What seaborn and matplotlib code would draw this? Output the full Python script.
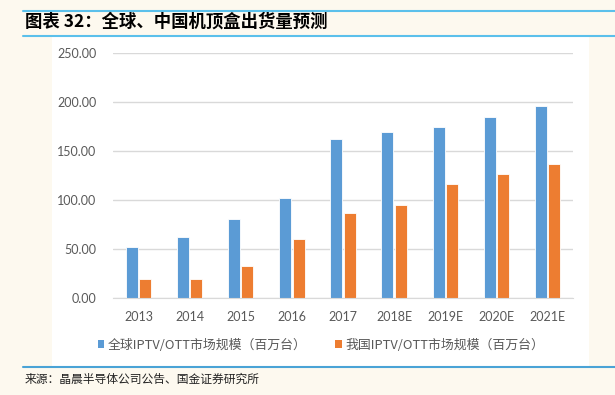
import pandas as pd
import seaborn as sns
import matplotlib.pyplot as plt
from matplotlib.patches import Rectangle, Patch
from matplotlib.lines import Line2D

# Data
years = ["2013", "2014", "2015", "2016", "2017", "2018E", "2019E", "2020E", "2021E"]
global_units = [52.0, 62.2, 80.9, 102.7, 162.2, 170.0, 174.8, 185.0, 196.6]
china_units = [19.4, 20.0, 32.6, 60.2, 86.7, 94.9, 116.6, 126.5, 137.4]
series_names = ["全球IPTV/OTT市场规模（百万台）", "我国IPTV/OTT市场规模（百万台）"]
colors = ["#5b9bd5", "#ed7d31"]
y_ticks = [0, 50, 100, 150, 200, 250]

title_text = "图表 32：全球、中国机顶盒出货量预测"
source_text = "来源：晶晨半导体公司公告、国金证券研究所"

sns.set_style("white")
plt.rcParams['font.family'] = ['Noto Sans CJK SC', 'DejaVu Sans']

df = pd.DataFrame({
    "year": years * 2,
    "value": global_units + china_units,
    "series": [series_names[0]] * len(years) + [series_names[1]] * len(years),
})

fig = plt.figure(figsize=(6.15, 3.95), dpi=100)
fig.patch.set_facecolor("#fdf9ef")

# white chart panel
fig.patches.append(Rectangle((52 / 615, 28 / 395), 537 / 615, 330 / 395,
                             transform=fig.transFigure, facecolor="white",
                             edgecolor="none", zorder=-5))

# blue rules around title and under chart
for y, c in [(384, "#5bc0eb"), (359, "#5bc0eb"), (28, "#4aa3d6")]:
    fig.lines.append(Line2D([23 / 615, 1], [y / 395, y / 395], transform=fig.transFigure,
                            color=c, linewidth=1.5, zorder=-4))

ax = fig.add_axes([113 / 615, 0.2448, 460 / 615, 0.6203])
ax.set_facecolor("none")
ax.set_zorder(2)

sns.barplot(data=df, x="year", y="value", hue="series", palette=colors, saturation=1,
            width=0.52, gap=0.1, edgecolor="white", linewidth=0.6, ax=ax)

ax.set_ylim(0, 250)
ax.set_xlim(-0.5, len(years) - 0.5)
ax.set_yticks(y_ticks)
ax.set_yticklabels([f"{v:.2f}" for v in y_ticks])
ax.set_xlabel("")
ax.set_ylabel("")
ax.grid(axis="y", color="#d9d9d9", linewidth=1)
ax.set_axisbelow(True)
for side in ["top", "right", "left"]:
    ax.spines[side].set_visible(False)
ax.spines["bottom"].set_color("#d9d9d9")
ax.tick_params(axis="both", length=0, colors="#595959", labelsize=9)
ax.tick_params(axis="y", pad=12)
ax.tick_params(axis="x", pad=9)
for lab in ax.get_xticklabels() + ax.get_yticklabels():
    lab.set_family(["Lato", "DejaVu Sans"])

ax.get_legend().remove()
handles = [Patch(facecolor=c, edgecolor="none") for c in colors]
fig.legend(handles, series_names, loc="center", bbox_to_anchor=(321 / 615, 50 / 395),
           ncol=2, frameon=False, fontsize=9.3, labelcolor="#595959",
           handlelength=0.5, handleheight=0.5, handletextpad=0.3, columnspacing=2.2)

fig.text(25 / 615, 373 / 395, title_text, fontsize=12.5, fontweight="bold",
         va="center", ha="left", color="black")
fig.text(25 / 615, 16 / 395, source_text, fontsize=8.5, va="center", ha="left",
         color="#222222")

fig.savefig("out.png", dpi=100, facecolor=fig.get_facecolor())
